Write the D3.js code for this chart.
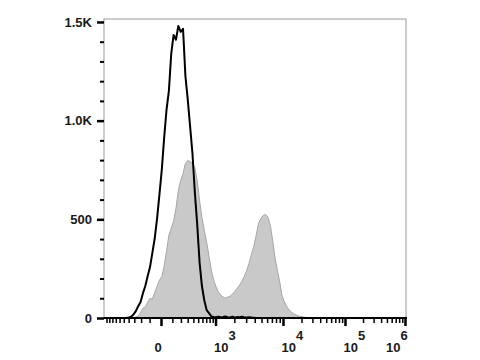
<!DOCTYPE html>
<html>
<head>
<meta charset="utf-8">
<title>Histogram overlay</title>
<script src="https://d3js.org/d3.v7.min.js"></script>
<style>
  body { margin: 0; background: #fff; }
  .lbl { font-family: "Liberation Sans", Arial, sans-serif; font-size: 13px; font-weight: bold; fill: #1a1a1a; }
</style>
</head>
<body>
<div id="chart"></div>
<script>
const width = 480, height = 360;
const plotLeft = 104, plotRight = 406, plotTop = 19, plotBottom = 318;

// histogram counts, 8-channel bins (1024 channels), first bin index below
const binWidth = 8;
const stainedStart = 8;
const stained = [0, 0, 0, 0, 2, 5, 10, 28, 50, 55, 80, 100, 95, 130, 160, 192, 210, 263, 338, 419,
  455, 490, 556, 646, 697, 732, 783, 798, 793, 783, 762, 697, 596, 510, 444, 384, 313, 242, 192, 157,
  131, 116, 106, 101, 106, 111, 121, 136, 152, 167, 187, 212, 242, 278, 323, 364, 419, 480, 505, 520,
  525, 510, 470, 394, 303, 242, 182, 111, 81, 56, 40, 30, 20, 15, 10, 8, 5, 3, 2, 1, 0];
const controlStart = 8;
const control = [0, 0, 2, 6, 18, 35, 60, 81, 126, 162, 212, 258, 330, 404, 505, 626, 752, 914, 1055, 1151,
  1340, 1434, 1410, 1480, 1450, 1465, 1227, 1106, 970, 833, 637, 475, 283, 162, 90, 40, 25, 8, 5, 4,
  7, 3, 5, 8, 3, 4, 6, 2, 5, 4, 7, 3, 2, 4, 2, 1, 0];

// axis ticks
const yMajor = [0, 500, 1000, 1500];
const yLabels = ["0", "500", "1.0K", "1.5K"];
const xMajor = [0, 1e3, 1e4, 1e5, 1e6];
const xExp = [null, 3, 4, 5, 6];

const svg = d3.select("#chart").append("svg")
  .attr("width", width)
  .attr("height", height)
  .style("background", "#fff");

const y = d3.scaleLinear().domain([0, 1515]).range([plotBottom, plotTop]);
// biexponential-like display axis
const x = d3.scaleSymlog().constant(250)
  .domain([-1000, 0, 1e3, 1e4, 1e5, 1e6])
  .range([106.5, 161, 215.5, 283, 345, 405]);
const chan = d3.scaleLinear().domain([0, 1024]).range([plotLeft, plotRight]);

svg.append("clipPath").attr("id", "plot")
  .append("rect").attr("x", plotLeft).attr("y", plotTop)
  .attr("width", plotRight - plotLeft).attr("height", plotBottom - plotTop);

const g = svg.append("g").attr("clip-path", "url(#plot)");

const area = d3.area()
  .x(d => chan(d.b * binWidth + binWidth / 2))
  .y0(plotBottom)
  .y1(d => y(d.v));
const line = d3.line()
  .x(d => chan(d.b * binWidth + binWidth / 2))
  .y(d => y(d.v));

const stainedPts = stained.map((v, i) => ({b: stainedStart + i, v: v}));
const controlPts = control.map((v, i) => ({b: controlStart + i, v: v}));

g.append("path").datum(stainedPts)
  .attr("d", area)
  .attr("fill", "#c9c9c9")
  .attr("stroke", "#a6a6a6")
  .attr("stroke-width", 1);

g.append("path").datum(controlPts)
  .attr("d", line)
  .attr("fill", "none")
  .attr("stroke", "#000")
  .attr("stroke-width", 2)
  .attr("stroke-linejoin", "round");

// frame
svg.append("rect")
  .attr("x", plotLeft).attr("y", plotTop)
  .attr("width", plotRight - plotLeft).attr("height", plotBottom - plotTop)
  .attr("fill", "none").attr("stroke", "#999").attr("stroke-width", 1);

// y axis
const yMinor = d3.range(0, 1501, 100).filter(v => yMajor.indexOf(v) < 0);
const yAxisMinor = svg.append("g").attr("transform", `translate(${plotLeft},0)`)
  .call(d3.axisLeft(y).tickValues(yMinor).tickSize(4).tickFormat(""));
const yAxis = svg.append("g").attr("transform", `translate(${plotLeft},0)`)
  .call(d3.axisLeft(y).tickValues(yMajor).tickSize(7).tickPadding(5)
    .tickFormat((d, i) => yLabels[i]));
[yAxis, yAxisMinor].forEach(a => {
  a.select(".domain").remove();
  a.selectAll("line").attr("stroke", "#000").attr("stroke-width", 2);
});
yAxis.selectAll("line").attr("stroke-width", 2.5);
yAxis.attr("font-family", null).attr("font-size", null);
yAxis.selectAll("text").attr("class", "lbl");

// x axis
const xMinor = [];
[-1, 1].forEach(s => d3.range(100, 1001, 100).forEach(v => xMinor.push(s * v)));
[1e3, 1e4, 1e5].forEach(dec => d3.range(2, 10).forEach(n => xMinor.push(n * dec)));
const xAxisMinor = svg.append("g").attr("transform", `translate(0,${plotBottom})`)
  .call(d3.axisBottom(x).tickValues(xMinor.filter(v => xMajor.indexOf(v) < 0)).tickSize(5).tickFormat(""));
const xAxis = svg.append("g").attr("transform", `translate(0,${plotBottom})`)
  .call(d3.axisBottom(x).tickValues(xMajor).tickSize(8).tickFormat(""));
[xAxis, xAxisMinor].forEach(a => {
  a.select(".domain").remove();
  a.selectAll("line").attr("stroke", "#000").attr("stroke-width", 1.5);
});
xAxis.selectAll("line").attr("stroke-width", 2.5);

svg.append("line")
  .attr("x1", plotLeft).attr("x2", plotRight + 1)
  .attr("y1", plotBottom).attr("y2", plotBottom)
  .attr("stroke", "#000").attr("stroke-width", 2);

const xl = svg.append("g");
xMajor.forEach((v, i) => {
  const t = xl.append("text").attr("class", "lbl").attr("y", 352);
  if (xExp[i] === null) {
    t.attr("x", x(v) - 3).attr("text-anchor", "middle").text("0");
  } else {
    t.attr("x", Math.min(x(v) - 1.5, plotRight - 20)).attr("text-anchor", "start");
    t.append("tspan").text("10");
    t.append("tspan").attr("dy", -12).text(xExp[i]);
  }
});
</script>
</body>
</html>
